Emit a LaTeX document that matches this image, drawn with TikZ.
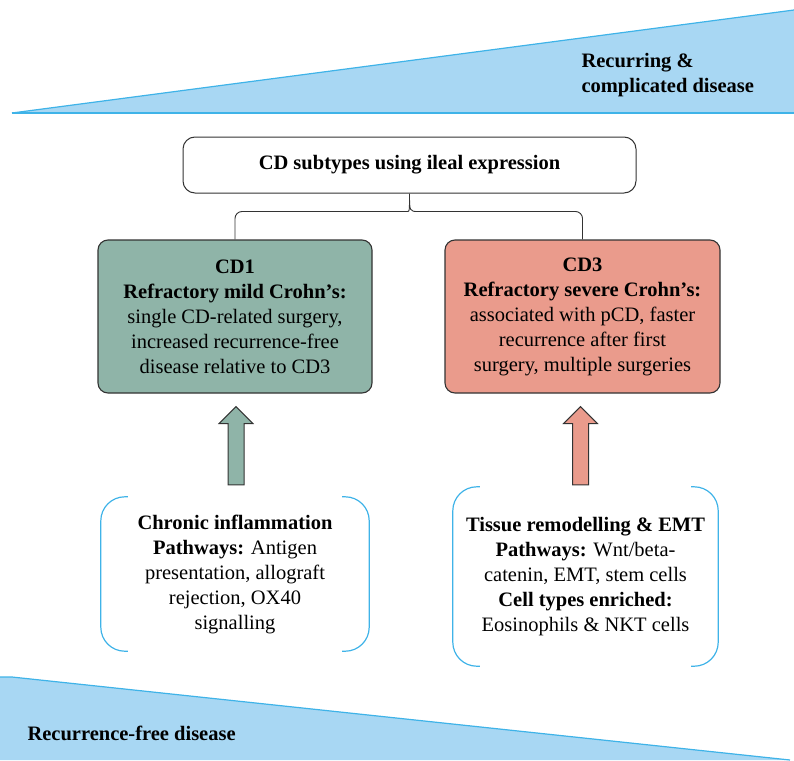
\documentclass[tikz,border=0pt]{standalone}
\usepackage{fontspec}
\setmainfont{Liberation Serif}
\usetikzlibrary{calc}

\definecolor{wedgefill}{HTML}{A8D7F3}
\definecolor{wedgeline}{HTML}{3FB3E8}
\definecolor{cdgreen}{HTML}{8FB4A8}
\definecolor{cdred}{HTML}{EA9B8C}
\definecolor{rim}{HTML}{333333}

\tikzset{
  wedge/.style={fill=wedgefill, draw=wedgeline, line width=1.2pt},
  topbox/.style={draw=rim, line width=1pt, rounded corners=12pt, minimum width=453pt, minimum height=56pt, font=\fontsize{20.5}{25}\selectfont\bfseries},
  cdbox/.style={draw=rim, line width=1.1pt, rounded corners=10pt, minimum width=274pt, minimum height=153pt, align=center, inner sep=0pt},
  pathbox/.style={align=center, inner sep=0pt},
  bracket/.style={draw=wedgeline, line width=1.2pt, rounded corners=24pt},
  link/.style={draw=rim, line width=0.9pt, rounded corners=7pt},
  blockup/.style={draw=rim, line width=1pt, line join=miter}
}

\begin{document}
\begin{tikzpicture}[x=1pt, y=-1pt, font=\fontsize{20.5}{25}\selectfont]
  \useasboundingbox (0,0) rectangle (794,760);

  % wedges
  \coordinate (TL) at (12,113);
  \coordinate (TR) at (794,10);
  \coordinate (BL) at (12,677);
  \coordinate (BR) at (790,760);
  \fill[wedgefill] (TL) -- (TR) -- (794,113) -- cycle;
  \draw[wedgeline, line width=1.2pt] (TL) -- (TR);
  \draw[wedgeline, line width=2pt] (TL) -- (794,113);
  \fill[wedgefill] (BL) -- (BR) -- (0,760) -- (0,677) -- cycle;
  \draw[wedgeline, line width=1.2pt] (0,677) -- (BL) -- (BR);

  \node[anchor=west, align=left, font=\fontsize{20.5}{25}\selectfont\bfseries] (recurring) at (578,75.5)
    {Recurring \&\\complicated disease};
  \node[anchor=west, font=\fontsize{20.5}{25}\selectfont\bfseries] (recurfree) at (24,733) {Recurrence-free disease};

  % boxes
  \node[topbox] (subtypes) at (409.5,165) {CD subtypes using ileal expression};
  \node[cdbox, fill=cdgreen] (cd1) at (235,316.5)
    {\textbf{CD1}\\\textbf{Refractory mild Crohn’s:}\\single CD-related surgery,\\increased recurrence-free\\disease relative to CD3};
  \node[cdbox, fill=cdred, minimum width=275pt] (cd3) at (582.5,316.5)
    {\textbf{CD3}\\\textbf{Refractory severe Crohn’s:}\\associated with pCD, faster\\recurrence after first\\surgery, multiple surgeries};

  \node[pathbox, minimum width=268pt, minimum height=154pt] (chronic) at (235,574)
    {\textbf{Chronic inflammation}\\\textbf{Pathways:} Antigen\\presentation, allograft\\rejection, OX40\\signalling};
  \node[pathbox, minimum width=265pt, minimum height=179pt] (tissue) at (585.5,576.5)
    {\textbf{Tissue remodelling \& EMT}\\\textbf{Pathways:} Wnt/beta-\\catenin, EMT, stem cells\\\textbf{Cell types enriched:}\\Eosinophils \& NKT cells};

  % brackets round the pathway texts
  \foreach \n in {chronic, tissue} {
    \draw[bracket] ([xshift=27pt]\n.north west) -- (\n.north west) -- (\n.south west) -- ([xshift=27pt]\n.south west);
    \draw[bracket] ([xshift=-27pt]\n.north east) -- (\n.north east) -- (\n.south east) -- ([xshift=-27pt]\n.south east);
  }

  % brace from the top box
  \coordinate (fork) at ([yshift=-18pt]subtypes.south);
  \draw[link] (cd1.north) |- ($(fork)+(-9,0)$) [sharp corners] .. controls (fork) .. (subtypes.south)
    .. controls (fork) .. ($(fork)+(9,0)$) [rounded corners=7pt] -| (cd3.north);

  % block arrows
  \coordinate[yshift=-13pt] (T1) at ([xshift=1pt]cd1.south);
  \coordinate[yshift=12pt] (F1) at (T1 |- chronic.north);
  \coordinate[yshift=-13pt] (T3) at ([xshift=-2pt]cd3.south);
  \coordinate[yshift=2pt] (F3) at (T3 |- tissue.north);
  \draw[blockup, fill=cdgreen] ($(F1)+(-8,0)$) -- ($(T1)+(-8,17)$) -- ($(T1)+(-17,17)$) -- (T1)
    -- ($(T1)+(17,17)$) -- ($(T1)+(8,17)$) -- ($(F1)+(8,0)$) -- cycle;
  \draw[blockup, fill=cdred] ($(F3)+(-8,0)$) -- ($(T3)+(-8,17)$) -- ($(T3)+(-17,17)$) -- (T3)
    -- ($(T3)+(17,17)$) -- ($(T3)+(8,17)$) -- ($(F3)+(8,0)$) -- cycle;
\end{tikzpicture}
\end{document}
